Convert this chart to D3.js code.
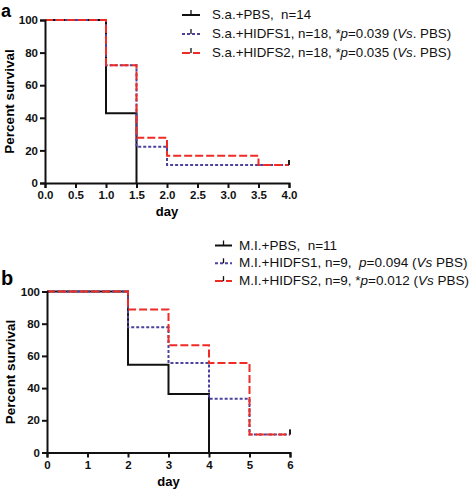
<!DOCTYPE html>
<html><head><meta charset="utf-8">
<script src="https://cdn.jsdelivr.net/npm/d3@7"></script>
<style>
body{margin:0;background:#fff;}
svg{display:block;font-family:"Liberation Sans",Arial,sans-serif;}
text{white-space:pre;}
</style></head>
<body>
<svg id="c" width="472" height="492"></svg>
<script>
// ---- Panel a data (S. aureus) ----
const aTicksX = [0,0.5,1,1.5,2,2.5,3,3.5,4];
const aTicksY = [0,20,40,60,80,100];
const aPBS_t = [0,1,1.5];
const aPBS_s = [100,42.86,0];
const aH1_t = [0,1,1.5,2,4];
const aH1_s = [100,72.22,22.22,11.11,11.11];
const aH2_t = [0,1,1.5,2,3.5,4];
const aH2_s = [100,72.22,27.78,16.67,11.11,11.11];
const aLegend = [
  [{t:"S.a.+PBS,  n=14"}],
  [{t:"S.a.+HIDFS1, n=18, *"},{t:"p",i:1},{t:"=0.039 ("},{t:"Vs",i:1},{t:". PBS)"}],
  [{t:"S.a.+HIDFS2, n=18, *"},{t:"p",i:1},{t:"=0.035 ("},{t:"Vs",i:1},{t:". PBS)"}]
];
// ---- Panel b data (M. luteus) ----
const bTicksX = [0,1,2,3,4,5,6];
const bTicksY = [0,20,40,60,80,100];
const bPBS_t = [0,2,3,4];
const bPBS_s = [100,54.55,36.36,0];
const bH1_t = [0,2,3,4,5,6];
const bH1_s = [100,77.78,55.56,33.33,11.11,11.11];
const bH2_t = [0,2,3,4,5,6];
const bH2_s = [100,88.89,66.67,55.56,11.11,11.11];
const bLegend = [
  [{t:"M.I.+PBS,  n=11"}],
  [{t:"M.I.+HIDFS1, n=9,  "},{t:"p",i:1},{t:"=0.094 ("},{t:"Vs",i:1},{t:" PBS)"}],
  [{t:"M.I.+HIDFS2, n=9, *"},{t:"p",i:1},{t:"=0.012 ("},{t:"Vs",i:1},{t:" PBS)"}]
];

const styles = [
  {color:"#111", dash:null, w:2},
  {color:"#4b439c", dash:"3,2", w:2},
  {color:"#ee2b24", dash:"8,3", w:2}
];

const svg = d3.select("#c");

function panel(cfg){
  const g = svg.append("g");
  const x = d3.scaleLinear().domain(cfg.xdom).range(cfg.xr);
  const y = d3.scaleLinear().domain([0,100]).range(cfg.yr);
  const line = d3.line().x(d=>x(d[0])).y(d=>y(d[1])).curve(d3.curveStepAfter);
  cfg.series.forEach((s,k)=>{
    const pts = s.t.map((t,i)=>[t,s.s[i]]);
    const st = styles[k];
    g.append("path").attr("d",line(pts)).attr("fill","none")
      .attr("stroke",st.color).attr("stroke-width",st.w)
      .attr("stroke-dasharray",st.dash);
    const last = pts[pts.length-1];
    if(last[1]>0){
      g.append("line").attr("x1",x(last[0])).attr("x2",x(last[0]))
        .attr("y1",y(last[1])).attr("y2",y(last[1])-5)
        .attr("stroke","#111").attr("stroke-width",1.5);
    }
  });
  const xa = g.append("g").attr("transform",`translate(0,${cfg.yr[0]})`)
    .call(d3.axisBottom(x).tickValues(cfg.xt).tickSize(5).tickPadding(3).tickFormat(cfg.xf));
  const ya = g.append("g").attr("transform",`translate(${cfg.xr[0]},0)`)
    .call(d3.axisLeft(y).tickValues(cfg.yt).tickSize(5).tickPadding(2));
  [xa,ya].forEach(a=>{
    a.select(".domain").attr("stroke","#111").attr("stroke-width",2);
    a.selectAll(".tick line").attr("stroke","#111").attr("stroke-width",2);
    a.selectAll("text").attr("font-size",11.5).attr("font-weight","bold").attr("fill","#111")
      .attr("font-family","Liberation Sans, Arial, sans-serif");
  });
  g.append("text").attr("x",(cfg.xr[0]+cfg.xr[1])/2).attr("y",cfg.dayY)
    .attr("text-anchor","middle").attr("font-size",13).attr("font-weight","bold").text("day");
  g.append("text").attr("transform",`translate(${cfg.ylabX},${(cfg.yr[0]+cfg.yr[1])/2}) rotate(-90)`)
    .attr("text-anchor","middle").attr("font-size",13.5).attr("font-weight","bold").text("Percent survival");
  g.append("text").attr("x",1).attr("y",cfg.letterY).attr("font-size",cfg.letterFs)
    .attr("font-weight","bold").text(cfg.letter);
  cfg.legend.forEach((row,k)=>{
    const yy = cfg.legY + k*cfg.legDy;
    const st = styles[k];
    g.append("line").attr("x1",cfg.legSym[0]).attr("x2",cfg.legSym[1])
      .attr("y1",yy-4).attr("y2",yy-4).attr("stroke",st.color)
      .attr("stroke-width",2).attr("stroke-dasharray",st.dash);
    const mx = (cfg.legSym[0]+cfg.legSym[1])/2;
    g.append("line").attr("x1",mx).attr("x2",mx).attr("y1",yy-4).attr("y2",yy-9)
      .attr("stroke","#111").attr("stroke-width",1.3);
    const t = g.append("text").attr("x",cfg.legText).attr("y",yy)
      .attr("font-size",cfg.legFs).attr("fill","#111");
    row.forEach(p=>{
      t.append("tspan").attr("font-style",p.i?"italic":"normal").text(p.t);
    });
  });
}

panel({
  xdom:[0,4], xr:[45,289], yr:[183,20], xt:aTicksX, yt:aTicksY, xf:d3.format(".1f"),
  series:[{t:aPBS_t,s:aPBS_s},{t:aH1_t,s:aH1_s},{t:aH2_t,s:aH2_s}],
  dayY:216, ylabX:13.5, letter:"a", letterY:16.5, letterFs:18,
  legend:aLegend, legY:19, legDy:19, legSym:[182,200], legText:212, legFs:13.3
});
panel({
  xdom:[0,6], xr:[47,290], yr:[452.5,291.5], xt:bTicksX, yt:bTicksY, xf:d3.format("d"),
  series:[{t:bPBS_t,s:bPBS_s},{t:bH1_t,s:bH1_s},{t:bH2_t,s:bH2_s}],
  dayY:486, ylabX:14.5, letter:"b", letterY:285, letterFs:20,
  legend:bLegend, legY:249.5, legDy:17.8, legSym:[215,232], legText:239, legFs:13.5
});
</script>
</body></html>
